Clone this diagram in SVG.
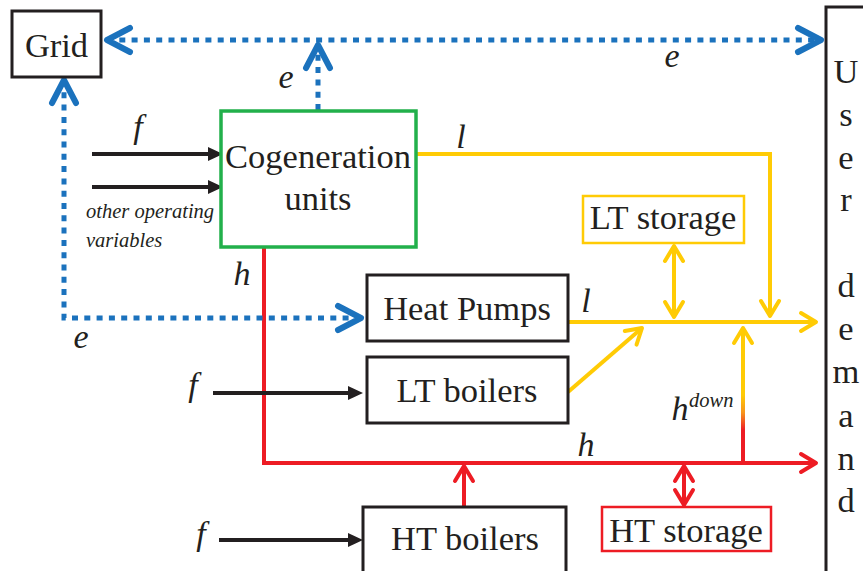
<svg xmlns="http://www.w3.org/2000/svg" width="863" height="571" viewBox="0 0 863 571">
<style>
.t{font-family:'Liberation Serif','Times New Roman',serif;font-size:34.5px;fill:#231f20;text-anchor:middle}
.i{font-family:'Liberation Serif','Times New Roman',serif;font-style:italic;font-size:34px;fill:#231f20;text-anchor:middle}
.s{font-family:'Liberation Serif','Times New Roman',serif;font-style:italic;font-size:20.5px;fill:#231f20}
.box{fill:#fff;stroke:#231f20;stroke-width:3}
.blue{fill:none;stroke:#1B72BD;stroke-width:5;stroke-dasharray:6 6.3}
.yel{fill:none;stroke:#FFCB05;stroke-width:4}
.red{fill:none;stroke:#ED1C24;stroke-width:4}
.blk{fill:none;stroke:#231f20;stroke-width:4}
</style>
<defs>
<marker id="ab" markerUnits="userSpaceOnUse" viewBox="-35 -20 45 40" markerWidth="45" markerHeight="40" refX="0" refY="0" orient="auto-start-reverse" overflow="visible">
<path d="M-23,-12 L0,0 L-23,12" fill="none" stroke="#1B72BD" stroke-width="6" stroke-linecap="round" stroke-linejoin="round"/>
</marker>
<marker id="ay" markerUnits="userSpaceOnUse" viewBox="-25 -15 35 30" markerWidth="35" markerHeight="30" refX="0" refY="0" orient="auto-start-reverse" overflow="visible">
<path d="M-15,-9 L0,0 L-15,9" fill="none" stroke="#FFCB05" stroke-width="4" stroke-linecap="round" stroke-linejoin="round"/>
</marker>
<marker id="ar" markerUnits="userSpaceOnUse" viewBox="-25 -15 35 30" markerWidth="35" markerHeight="30" refX="0" refY="0" orient="auto-start-reverse" overflow="visible">
<path d="M-15,-9 L0,0 L-15,9" fill="none" stroke="#ED1C24" stroke-width="4" stroke-linecap="round" stroke-linejoin="round"/>
</marker>
<marker id="ak" markerUnits="userSpaceOnUse" viewBox="-10 -10 25 20" markerWidth="25" markerHeight="20" refX="0" refY="0" orient="auto" overflow="visible">
<path d="M-3,-7 L12,0 L-3,7 Z" fill="#231f20"/>
</marker>
<linearGradient id="gd" gradientUnits="userSpaceOnUse" x1="0" y1="463" x2="0" y2="327">
<stop offset="0.24" stop-color="#ED1C24"/>
<stop offset="0.37" stop-color="#F7941D"/>
<stop offset="0.5" stop-color="#FFCB05"/>
</linearGradient>
</defs>

<g id="connectors">
<path class="red" d="M264,247 L264,463 L816,463" marker-end="url(#ar)"/>
<path class="red" d="M464,507 L464,466" marker-end="url(#ar)"/>
<path class="red" d="M684,466 L684,505" marker-start="url(#ar)" marker-end="url(#ar)"/>
<path class="yel" d="M416,154 L770,154 L770,316" marker-end="url(#ay)"/>
<path class="yel" d="M568,322 L816,322" marker-end="url(#ay)"/>
<path class="yel" d="M674,246 L674,317" marker-start="url(#ay)" marker-end="url(#ay)"/>
<path class="yel" d="M568,392 L642,328" marker-end="url(#ay)"/>
<path d="M743,463 L743,328" fill="none" stroke="url(#gd)" stroke-width="4" marker-end="url(#ay)"/>
<path class="blk" d="M92,154 L211,154" marker-end="url(#ak)"/>
<path class="blk" d="M92,187 L211,187" marker-end="url(#ak)"/>
<path class="blk" d="M213,393 L351,393" marker-end="url(#ak)"/>
<path class="blk" d="M219,540 L351,540" marker-end="url(#ak)"/>
<path class="blue" d="M107,40 L821,40" marker-start="url(#ab)" marker-end="url(#ab)"/>
<path class="blue" d="M318,110 L318,45" marker-end="url(#ab)"/>
<path class="blue" d="M64,80 L64,318 L361,318" marker-start="url(#ab)" marker-end="url(#ab)"/>
</g>

<g id="labels">
<text class="i" x="286" y="88">e</text>
<text class="i" x="672" y="67">e</text>
<text class="i" x="81" y="348">e</text>
<text class="i" x="138" y="138">f</text>
<text class="i" x="193" y="396">f</text>
<text class="i" x="201" y="545">f</text>
<text class="s" x="86" y="218">other operating</text>
<text class="s" x="86" y="247">variables</text>
<text class="i" x="242" y="285">h</text>
<text class="i" x="586" y="456">h</text>
<text class="i" x="680" y="420">h</text>
<text class="s" x="689" y="407">down</text>
<text class="i" x="461" y="148">l</text>
<text class="i" x="586" y="312">l</text>
</g>

<g id="grid">
<rect class="box" x="12" y="11" width="89" height="66"/>
<text class="t" x="56.5" y="57">Grid</text>
</g>
<g id="cogeneration">
<rect x="221" y="111" width="195" height="136" fill="#fff" stroke="#22B04B" stroke-width="3.5"/>
<text class="t" x="318" y="168">Cogeneration</text>
<text class="t" x="318" y="210">units</text>
</g>
<g id="lt-storage">
<rect x="583" y="196" width="161" height="47" fill="#fff" stroke="#FFCB05" stroke-width="2.5"/>
<text class="t" x="663" y="229">LT storage</text>
</g>
<g id="heat-pumps">
<rect class="box" x="367" y="275" width="201" height="66"/>
<text class="t" x="467" y="320">Heat Pumps</text>
</g>
<g id="lt-boilers">
<rect class="box" x="367" y="357" width="201" height="66"/>
<text class="t" x="467" y="402">LT boilers</text>
</g>
<g id="ht-boilers">
<rect class="box" x="363" y="507" width="203" height="80"/>
<text class="t" x="465" y="550">HT boilers</text>
</g>
<g id="ht-storage">
<rect x="602" y="507" width="169" height="44" fill="#fff" stroke="#ED1C24" stroke-width="2.5"/>
<text class="t" x="686" y="542">HT storage</text>
</g>
<g id="user-demand">
<rect class="box" x="826" y="7" width="60" height="600"/>
<text class="t" x="846" y="83">U</text>
<text class="t" x="846" y="126">s</text>
<text class="t" x="846" y="169">e</text>
<text class="t" x="846" y="211">r</text>
<text class="t" x="846" y="297">d</text>
<text class="t" x="846" y="340">e</text>
<text class="t" x="846" y="383">m</text>
<text class="t" x="846" y="427">a</text>
<text class="t" x="846" y="470">n</text>
<text class="t" x="846" y="512">d</text>
</g>
</svg>
